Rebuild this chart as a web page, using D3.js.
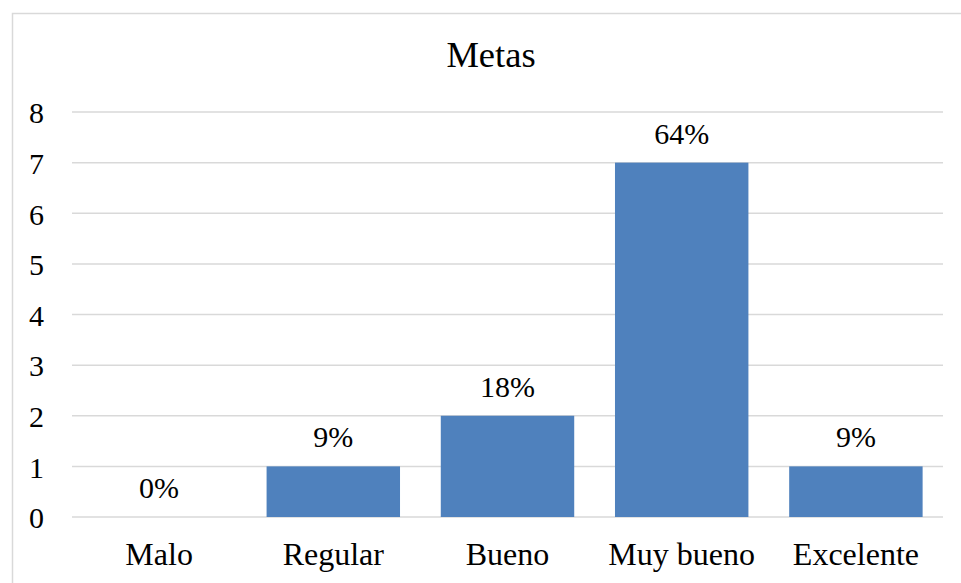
<!DOCTYPE html>
<html>
<head>
<meta charset="utf-8">
<script src="https://cdn.jsdelivr.net/npm/d3@7"></script>
<style>
  body { margin: 0; background: #fff; font-family: "Liberation Serif", serif; }
  svg text { font-family: "Liberation Serif", serif; fill: #000; }
</style>
</head>
<body>
<div id="chart"></div>
<script>
// Data
var categories = ["Malo", "Regular", "Bueno", "Muy bueno", "Excelente"];
var counts = [0, 1, 2, 7, 1];
var percentLabels = ["0%", "9%", "18%", "64%", "9%"];
var yTicks = [0, 1, 2, 3, 4, 5, 6, 7, 8];

var width = 961;
var height = 583;
var serif = '"Liberation Serif", serif';

// plot area
var plotLeft = 72;
var plotRight = 943;
var plotTop = 112;
var plotBottom = 517;

var svg = d3.select("#chart")
  .append("svg")
  .attr("width", width)
  .attr("height", height)
  .attr("font-family", serif);

// chart frame (runs off the right and bottom edge)
svg.append("rect")
  .attr("x", 12.5)
  .attr("y", 13.5)
  .attr("width", 1000)
  .attr("height", 700)
  .attr("fill", "none")
  .attr("stroke", "#d9d9d9")
  .attr("stroke-width", 1.5);

var xScale = d3.scaleBand()
  .domain(categories)
  .range([plotLeft, plotRight])
  .paddingInner(0.234)
  .paddingOuter(0.117);

var yScale = d3.scaleLinear()
  .domain([0, 8])
  .range([plotBottom, plotTop]);

// gridlines
svg.append("g")
  .selectAll("line")
  .data(yTicks)
  .enter()
  .append("line")
  .attr("x1", plotLeft)
  .attr("x2", plotRight)
  .attr("y1", function(d) { return yScale(d); })
  .attr("y2", function(d) { return yScale(d); })
  .attr("stroke", "#d9d9d9")
  .attr("stroke-width", 1.5);

// y axis labels
var yAxis = d3.axisLeft(yScale).tickValues(yTicks).tickSize(0).tickPadding(0);
var yG = svg.append("g")
  .attr("transform", "translate(44,0)")
  .call(yAxis)
  .attr("font-family", null)
  .attr("font-size", null);
yG.select(".domain").remove();
yG.selectAll("text")
  .attr("font-size", 30)
  .attr("dy", "0.36em")
  .attr("fill", "#000");

// x axis labels
var xAxis = d3.axisBottom(xScale).tickSize(0).tickPadding(0);
var xG = svg.append("g")
  .attr("transform", "translate(0," + plotBottom + ")")
  .call(xAxis)
  .attr("font-family", null)
  .attr("font-size", null);
xG.select(".domain").remove();
xG.selectAll("text")
  .attr("font-size", 32)
  .attr("y", 48)
  .attr("dy", 0)
  .attr("fill", "#000");

// bars
svg.append("g")
  .selectAll("rect")
  .data(counts)
  .enter()
  .append("rect")
  .attr("x", function(d, i) { return xScale(categories[i]); })
  .attr("y", function(d) { return yScale(d); })
  .attr("width", xScale.bandwidth())
  .attr("height", function(d) { return yScale(0) - yScale(d); })
  .attr("fill", "#4f81bd");

// data labels
svg.append("g")
  .selectAll("text")
  .data(counts)
  .enter()
  .append("text")
  .attr("x", function(d, i) { return xScale(categories[i]) + xScale.bandwidth() / 2; })
  .attr("y", function(d) { return yScale(d) - 19; })
  .attr("text-anchor", "middle")
  .attr("font-size", 30)
  .text(function(d, i) { return percentLabels[i]; });

// title
svg.append("text")
  .attr("x", 491)
  .attr("y", 67)
  .attr("text-anchor", "middle")
  .attr("font-size", 36.5)
  .text("Metas");
</script>
</body>
</html>
